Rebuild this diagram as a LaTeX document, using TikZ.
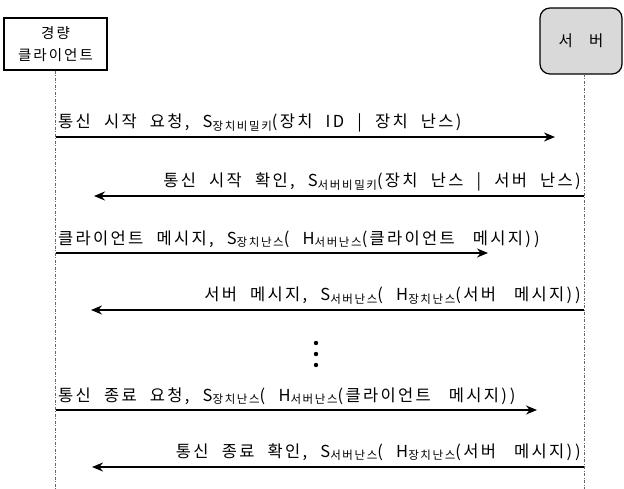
\documentclass[tikz,border=0pt]{standalone}
\usepackage{fontspec}
\setmainfont{Noto Sans CJK KR}[WordSpace={2.2}, LetterSpace=14]
\usetikzlibrary{arrows.meta}
\newcommand\subk[1]{\raisebox{-2.5pt}{\fontsize{11.5}{12}\selectfont #1}}
\tikzset{
  lifeline/.style={gray!80!black, line width=0.7pt, dash pattern=on 3pt off 1.5pt on 1pt off 1.5pt},
  msg/.style={line width=1.6pt, -{Stealth[length=11pt,width=9pt]}},
  lbl/.style={inner sep=0pt, font=\fontsize{16.5}{18}\selectfont},
  actor/.style={draw, line width=1.4pt, align=center, font=\fontsize{14.5}{22}\selectfont, inner sep=0pt}
}
\begin{document}
\begin{tikzpicture}[x=1pt,y=-1pt]
\useasboundingbox (0,0) rectangle (624,489);
% actors
\node[actor, fill=white, minimum width=103pt, minimum height=52pt] (cl) at (55.5,44) {경량\\클라이언트};
\node[actor, fill=gray!30, rounded corners=10pt, line width=1.2pt, minimum width=82pt, minimum height=66pt, font=\fontsize{15.5}{18}\selectfont] (sv) at (581,41) {서\hspace{16pt}버};
% lifelines
\coordinate (clend) at (55.5,489);
\coordinate (svend) at (584,489);
\draw[lifeline] (cl.south) -- (clend);
\draw[lifeline] (584,74) -- (svend);
% endpoints
\coordinate (a1) at (55.5,137); \coordinate (b1) at (555,137);
\coordinate (a2) at (584,196);  \coordinate (b2) at (94,196);
\coordinate (a3) at (55.5,253); \coordinate (b3) at (488,253);
\coordinate (a4) at (584,310);  \coordinate (b4) at (91,310);
\coordinate (a5) at (55.5,410); \coordinate (b5) at (537,410);
\coordinate (a6) at (584,467);  \coordinate (b6) at (92,467);
\draw[msg] (a1) -- (b1);
\draw[msg] (a2) -- (b2);
\draw[msg] (a3) -- (b3);
\draw[msg] (a4) -- (b4);
\draw[msg] (a5) -- (b5);
\draw[msg] (a6) -- (b6);
% labels
\node[lbl, anchor=base west] (l1) at (58,128) {통신 시작 요청, S\subk{장치비밀키}(장치 ID | 장치 난스)};
\node[lbl, anchor=base east] (l2) at (581,187) {통신 시작 확인, S\subk{서버비밀키}(장치 난스 | 서버 난스)};
\node[lbl, anchor=base west] (l3) at (58,244) {클라이언트 메시지, S\subk{장치난스}( H\subk{서버난스}(클라이언트\hspace{5pt} 메시지)\hspace{3pt})};
\node[lbl, anchor=base east] (l4) at (581,301) {서버 메시지, S\subk{서버난스}( H\subk{장치난스}(서버\hspace{5pt} 메시지)\hspace{3pt})};
\node[lbl, anchor=base west] (l5) at (58,401) {통신 종료 요청, S\subk{장치난스}( H\subk{서버난스}(클라이언트\hspace{5pt} 메시지)\hspace{3pt})};
\node[lbl, anchor=base east] (l6) at (581,457) {통신 종료 확인, S\subk{서버난스}( H\subk{장치난스}(서버\hspace{5pt} 메시지)\hspace{3pt})};
% ellipsis
\fill (316,343) circle (2.2pt) (316,354) circle (2.2pt) (316,365) circle (2.2pt);
\end{tikzpicture}
\end{document}
